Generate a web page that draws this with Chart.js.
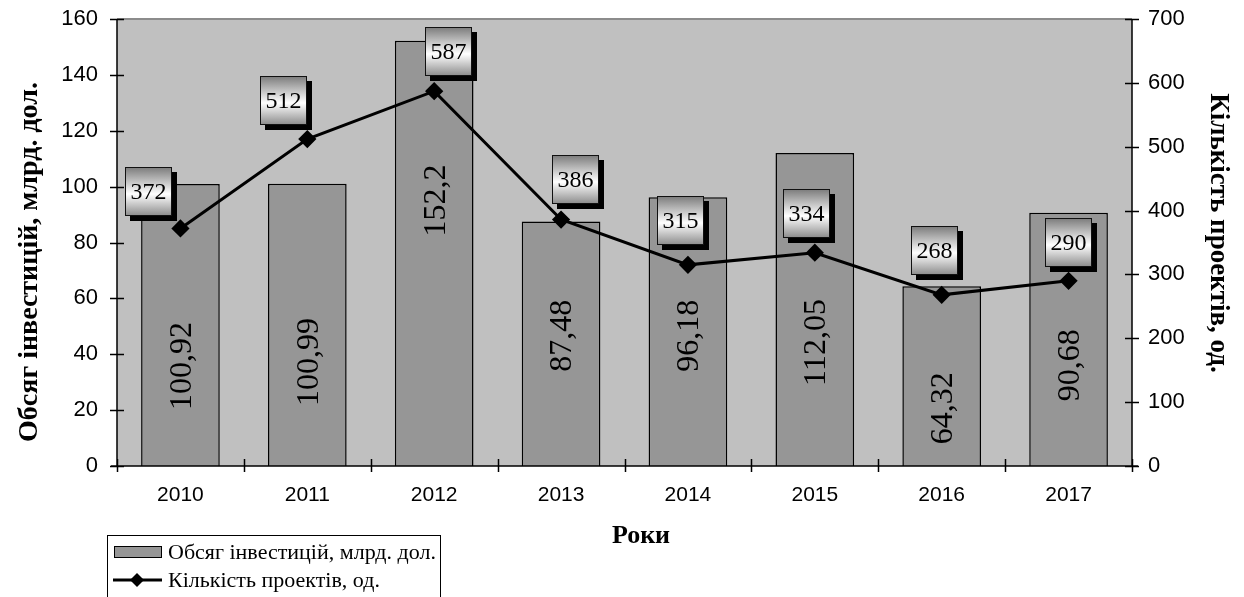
<!DOCTYPE html>
<html><head><meta charset="utf-8">
<script src="https://cdn.jsdelivr.net/npm/chart.js@4/dist/chart.umd.min.js"></script>
<style>html,body{margin:0;padding:0;background:#fff;} #wrap{width:1244px;height:597px;position:relative;overflow:hidden;}</style>
</head><body><div id="wrap"><canvas id="c" width="1244" height="597"></canvas></div>
<script>
const years = ['2010', '2011', '2012', '2013', '2014', '2015', '2016', '2017'];
const investments = [100.92, 100.99, 152.2, 87.48, 96.18, 112.05, 64.32, 90.68];
const investmentLabels = ['100,92', '100,99', '152,2', '87,48', '96,18', '112,05', '64,32', '90,68'];
const projects = [372, 512, 587, 386, 315, 334, 268, 290];
const leftAxis = {min: 0, max: 160, step: 20};
const rightAxis = {min: 0, max: 700, step: 100};
const seriesNames = ['Обсяг інвестицій, млрд. дол.', 'Кількість проектів, од.'];
const axisTitles = {x: 'Роки', left: 'Обсяг інвестицій, млрд. дол.', right: 'Кількість проектів, од.'};

// label placement (style, not data)
const boxLabelOffsets = [[-32,-37],[-24,-39],[14,-40],[14,-40],[-7,-44],[-8,-39],[-7,-44],[0,-38]];
const barLabelShift = [41, 37, -53, -8, 4, 33, 32, 26];

const SERIF = '"Liberation Serif", "Times New Roman", serif';
const SANS = '"Liberation Sans", Arial, sans-serif';

const decor = {
  id: 'decor',
  beforeDatasetsDraw(chart) {
    const {ctx, chartArea: a} = chart;
    ctx.save();
    ctx.fillStyle = '#c0c0c0';
    ctx.fillRect(a.left, a.top, a.right - a.left, a.bottom - a.top);
    ctx.strokeStyle = '#8c8c8c';
    ctx.lineWidth = 2;
    ctx.beginPath(); ctx.moveTo(a.left, a.top); ctx.lineTo(a.right, a.top); ctx.stroke();
    ctx.restore();
  },
  afterDatasetsDraw(chart) {
    const {ctx, chartArea: a, scales} = chart;
    const x = scales.x, y = scales.y, y1 = scales.y1;
    ctx.save();
    // bar labels
    const barMeta = chart.getDatasetMeta(1);
    ctx.fillStyle = '#000';
    ctx.font = '32px ' + SERIF;
    ctx.textAlign = 'center';
    ctx.textBaseline = 'middle';
    barMeta.data.forEach((el, i) => {
      const cy = y.getPixelForValue(investments[i] / 2) + barLabelShift[i];
      ctx.save();
      ctx.translate(el.x, cy);
      ctx.rotate(-Math.PI / 2);
      ctx.fillText(investmentLabels[i], 0, 2);
      ctx.restore();
    });
    // axes
    ctx.strokeStyle = '#000';
    ctx.lineWidth = 1.5;
    ctx.beginPath();
    ctx.moveTo(a.left, a.top); ctx.lineTo(a.left, a.bottom);
    ctx.moveTo(a.right, a.top); ctx.lineTo(a.right, a.bottom);
    ctx.moveTo(a.left - 6, a.bottom); ctx.lineTo(a.right + 6, a.bottom);
    for (let v = leftAxis.min; v <= leftAxis.max; v += leftAxis.step) {
      const py = Math.round(y.getPixelForValue(v)) + 0.5;
      ctx.moveTo(a.left - 7, py); ctx.lineTo(a.left + 7, py);
    }
    for (let v = rightAxis.min; v <= rightAxis.max; v += rightAxis.step) {
      const py = Math.round(y1.getPixelForValue(v)) + 0.5;
      ctx.moveTo(a.right - 7, py); ctx.lineTo(a.right + 7, py);
    }
    const cw = (a.right - a.left) / years.length;
    for (let k = 0; k <= years.length; k++) {
      const px = Math.round(a.left + cw * k) + 0.5;
      ctx.moveTo(px, a.bottom - 7); ctx.lineTo(px, a.bottom + 6);
    }
    ctx.stroke();
    // line value boxes
    const lineMeta = chart.getDatasetMeta(0);
    const bw = 47, bh = 49;
    lineMeta.data.forEach((el, i) => {
      const cx = el.x + boxLabelOffsets[i][0];
      const cy = el.y + boxLabelOffsets[i][1];
      const l = Math.round(cx - bw / 2), t = Math.round(cy - bh / 2);
      ctx.fillStyle = '#000';
      ctx.fillRect(l + 5, t + 5, bw, bh);
      const g = ctx.createLinearGradient(0, t, 0, t + bh);
      g.addColorStop(0, '#7a7a7a');
      g.addColorStop(0.55, '#ffffff');
      g.addColorStop(1, '#8a8a8a');
      ctx.fillStyle = g;
      ctx.fillRect(l, t, bw, bh);
      ctx.strokeStyle = '#111';
      ctx.lineWidth = 1;
      ctx.strokeRect(l + 0.5, t + 0.5, bw - 1, bh - 1);
      ctx.fillStyle = '#000';
      ctx.font = '24px ' + SERIF;
      ctx.textAlign = 'center';
      ctx.textBaseline = 'middle';
      ctx.fillText(String(projects[i]), l + bw / 2, t + bh / 2 + 1);
    });
    ctx.restore();
  },
  afterDraw(chart) {
    const {ctx} = chart;
    ctx.save();
    ctx.fillStyle = '#000';
    ctx.textAlign = 'center';
    ctx.textBaseline = 'middle';
    ctx.font = 'bold 26px ' + SERIF;
    ctx.fillText(axisTitles.x, 641, 536);
    ctx.save();
    ctx.translate(30, 262);
    ctx.rotate(-Math.PI / 2);
    ctx.font = 'bold 28px ' + SERIF;
    ctx.fillText(axisTitles.left, 0, 0);
    ctx.restore();
    ctx.save();
    ctx.translate(1218, 233);
    ctx.rotate(Math.PI / 2);
    ctx.font = 'bold 27px ' + SERIF;
    ctx.fillText(axisTitles.right, 0, 0);
    ctx.restore();
    // legend
    ctx.strokeStyle = '#000';
    ctx.lineWidth = 1;
    ctx.strokeRect(107.5, 535.5, 333, 80);
    ctx.fillStyle = '#969696';
    ctx.fillRect(114, 546, 48, 12);
    ctx.strokeRect(114.5, 546.5, 47, 11);
    ctx.lineWidth = 3;
    ctx.beginPath(); ctx.moveTo(113, 580); ctx.lineTo(162, 580); ctx.stroke();
    ctx.fillStyle = '#000';
    ctx.beginPath();
    ctx.moveTo(137, 573); ctx.lineTo(144, 580); ctx.lineTo(137, 587); ctx.lineTo(130, 580); ctx.closePath();
    ctx.fill();
    ctx.font = '22px ' + SERIF;
    ctx.textAlign = 'left';
    ctx.fillText(seriesNames[0], 168, 553);
    ctx.fillText(seriesNames[1], 168, 581);
    ctx.restore();
  }
};

function noPad(s) { s.paddingTop = 0; s.paddingBottom = 0; s.paddingLeft = 0; s.paddingRight = 0; }

new Chart(document.getElementById('c'), {
  data: {
    labels: years,
    datasets: [
      {
        type: 'line', label: seriesNames[1], data: projects, yAxisID: 'y1',
        borderColor: '#000', borderWidth: 3, pointStyle: 'rectRot', pointRadius: 7,
        pointBackgroundColor: '#000', pointBorderColor: '#000', tension: 0, order: 0
      },
      {
        type: 'bar', label: seriesNames[0], data: investments, yAxisID: 'y',
        backgroundColor: '#969696', borderColor: '#000', borderWidth: 1.5,
        categoryPercentage: 1, barPercentage: 0.62, order: 1
      }
    ]
  },
  options: {
    responsive: false, animation: false, devicePixelRatio: 1,
    layout: {padding: {top: 19, left: 0, right: 0, bottom: 0}},
    plugins: {legend: {display: false}, tooltip: {enabled: false}},
    scales: {
      x: {
        offset: true, grid: {display: false, drawTicks: false}, border: {display: false},
        ticks: {font: {family: SANS, size: 21}, color: '#000', padding: 17},
        afterFit(s) { s.height = 131; noPad(s); }
      },
      y: {
        position: 'left', min: leftAxis.min, max: leftAxis.max,
        grid: {display: false, drawTicks: false}, border: {display: false},
        ticks: {stepSize: leftAxis.step, font: {family: SANS, size: 22}, color: '#000', padding: 19},
        afterFit(s) { s.width = 117; noPad(s); }
      },
      y1: {
        position: 'right', min: rightAxis.min, max: rightAxis.max,
        grid: {display: false, drawTicks: false}, border: {display: false},
        ticks: {stepSize: rightAxis.step, font: {family: SANS, size: 22}, color: '#000', padding: 16},
        afterFit(s) { s.width = 112; noPad(s); }
      }
    }
  },
  plugins: [decor]
});
</script>
</body></html>
